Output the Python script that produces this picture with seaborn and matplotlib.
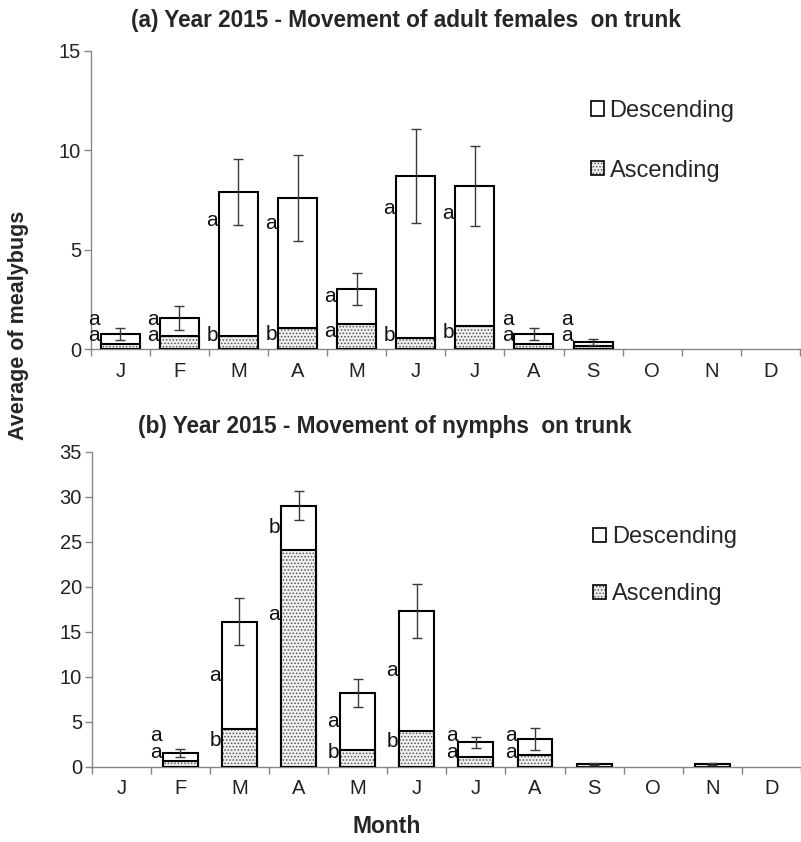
import numpy as np
import pandas as pd
import matplotlib
matplotlib.use("Agg")
import matplotlib.pyplot as plt
from matplotlib.patches import Patch
import seaborn as sns

# months and values
months = ["J", "F", "M", "A", "M", "J", "J", "A", "S", "O", "N", "D"]

# (a) adult females
fem_total = [0.75, 1.55, 7.9, 7.6, 3.0, 8.7, 8.2, 0.75, 0.35, 0, 0, 0]
fem_asc = [0.25, 0.65, 0.65, 1.05, 1.25, 0.55, 1.15, 0.25, 0.15, 0, 0, 0]
fem_err = [0.3, 0.6, 1.65, 2.15, 0.8, 2.35, 2.0, 0.3, 0.17, 0, 0, 0]
fem_desc_letters = ["a", "a", "a", "a", "a", "a", "a", "a", "a", "", "", ""]
fem_asc_letters = ["a", "a", "b", "b", "a", "b", "b", "a", "a", "", "", ""]

# (b) nymphs
nym_total = [0, 1.5, 16.1, 29.0, 8.2, 17.3, 2.7, 3.1, 0.3, 0, 0.3, 0]
nym_asc = [0, 0.6, 4.2, 24.1, 1.9, 4.0, 1.1, 1.3, 0, 0, 0, 0]
nym_err = [0, 0.45, 2.6, 1.6, 1.6, 3.0, 0.65, 1.2, 0.1, 0, 0.15, 0]
nym_desc_letters = ["", "a", "a", "b", "a", "a", "a", "a", "", "", "", ""]
nym_asc_letters = ["", "a", "b", "a", "b", "b", "a", "a", "", "", "", ""]

sns.set_style("white")
plt.rcParams["font.family"] = ["Liberation Sans", "DejaVu Sans"]
plt.rcParams["hatch.linewidth"] = 0.7

GRAY = "#868686"
DOTS = "#555555"
FILL = "#efefef"


def draw_panel(ax, total, asc, err, desc_let, asc_let, ymax, step, width, frac):
    df = pd.DataFrame({
        "pos": np.arange(12),
        "total": np.where(np.array(total) > 0, total, np.nan),
        "asc": np.where(np.array(asc) > 0, asc, np.nan),
    })
    order = list(range(12))
    # descending (full stacked height)
    sns.barplot(data=df, x="pos", y="total", order=order, color="white",
                edgecolor="black", linewidth=1.5, width=width,
                errorbar=None, ax=ax, zorder=2)
    # ascending: stipple then outline
    sns.barplot(data=df, x="pos", y="asc", order=order, color=FILL,
                edgecolor=DOTS, hatch=".....", linewidth=0, width=width,
                errorbar=None, ax=ax, zorder=3)
    sns.barplot(data=df, x="pos", y="asc", order=order, color="black",
                fill=False, linewidth=1.5, width=width,
                errorbar=None, ax=ax, zorder=4)

    tot = np.array(total, dtype=float)
    e = np.array(err, dtype=float)
    m = (tot > 0) & (e > 0)
    ax.errorbar(np.arange(12)[m], tot[m], yerr=e[m], fmt="none",
                ecolor="#3a3a3a", elinewidth=1, capsize=3.5, capthick=1,
                zorder=5)

    # significance letters to the left of each bar
    for i in range(12):
        a = float(asc[i])
        t = float(total[i])
        ya = max(0.7 * a, 0.045 * ymax)
        yd = max(a + frac * (t - a), ya + 0.055 * ymax)
        xl = i - width / 2 - 0.02
        if asc_let[i]:
            ax.text(xl, ya, asc_let[i], ha="right", va="center", fontsize=15,
                    color="#111111")
        if desc_let[i]:
            ax.text(xl, yd, desc_let[i], ha="right", va="center", fontsize=15,
                    color="#111111")

    ax.set_xlim(-0.5, 11.5)
    ax.set_ylim(0, ymax)
    ax.set_yticks(np.arange(0, ymax + 0.1, step))
    ax.set_xticks(range(12))
    ax.set_xticklabels(months)
    ax.set_xticks(np.arange(-0.5, 12, 1), minor=True)
    ax.set_xlabel("")
    ax.set_ylabel("")
    sns.despine(ax=ax)
    for s in ["left", "bottom"]:
        ax.spines[s].set_color(GRAY)
        ax.spines[s].set_linewidth(1)
    ax.tick_params(axis="y", which="major", direction="out", length=5,
                   width=1, color=GRAY, labelsize=14.5, pad=2,
                   labelcolor="#222222", left=True)
    ax.tick_params(axis="x", which="major", length=0, labelsize=14.5, pad=9,
                   labelcolor="#222222")
    ax.tick_params(axis="x", which="minor", direction="out", length=5,
                   width=1, color=GRAY, bottom=True)

    h_desc = Patch(facecolor="white", edgecolor="black", linewidth=1.2)
    h_fill = Patch(facecolor=FILL, edgecolor=DOTS, hatch=".....",
                   linewidth=0)
    h_edge = Patch(facecolor="none", edgecolor="black", linewidth=1.2)
    return [h_desc, (h_fill, h_edge)]


fig = plt.figure(figsize=(8.01, 8.42), dpi=100)
ax1 = fig.add_axes([0.1132, 0.5855, 0.8855, 0.3543])
ax2 = fig.add_axes([0.1145, 0.0894, 0.8855, 0.3741])

handles = draw_panel(ax1, fem_total, fem_asc, fem_err, fem_desc_letters,
                     fem_asc_letters, 15, 5, 0.66, 0.8)
draw_panel(ax2, nym_total, nym_asc, nym_err, nym_desc_letters,
           nym_asc_letters, 35, 5, 0.59, 0.5)

for ax, anchor, sp in [(ax1, (0.705, 0.835), 1.6), (ax2, (0.707, 0.764), 1.48)]:
    ax.legend(handles, ["Descending", "Ascending"], loc="upper left",
              bbox_to_anchor=anchor, frameon=False, fontsize=17,
              handlelength=0.55, handleheight=0.55, handletextpad=0.25,
              labelspacing=sp, borderpad=0, borderaxespad=0)

fig.text(0.507, 0.976, "(a) Year 2015 - Movement of adult females  on trunk",
         ha="center", va="center", fontsize=16.3, fontweight="bold")
fig.text(0.481, 0.493, "(b) Year 2015 - Movement of nymphs  on trunk",
         ha="center", va="center", fontsize=16.3, fontweight="bold")
fig.text(0.023, 0.613, "Average of mealybugs", rotation=90, ha="center",
         va="center", fontsize=15.5, fontweight="bold")
fig.text(0.4825, 0.018, "Month", ha="center", va="center", fontsize=16.5,
         fontweight="bold")

fig.savefig("out.png", dpi=100, facecolor="white")
